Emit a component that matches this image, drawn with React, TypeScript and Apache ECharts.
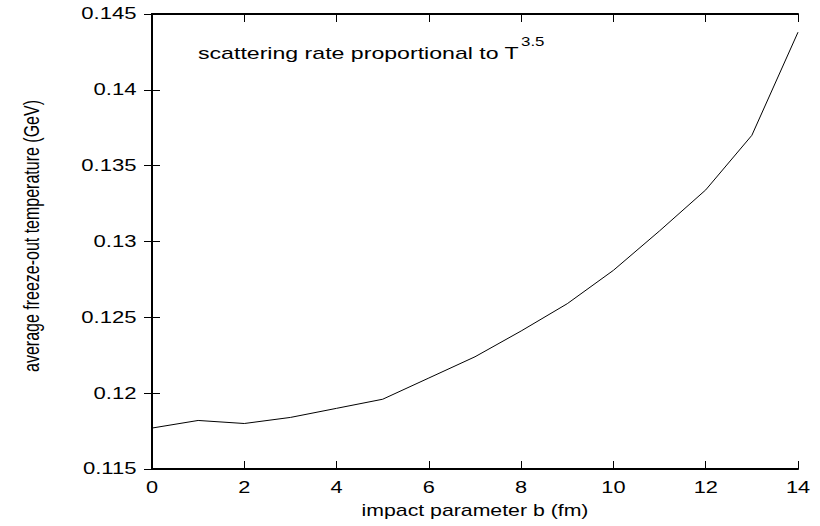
import React, { useEffect, useRef } from "react";
import * as echarts from "echarts";

const impactParameter = [0, 1, 2, 3, 4, 5, 6, 7, 8, 9, 10, 11, 12, 13, 14];
const freezeOutTemp = [0.1177, 0.1182, 0.1180, 0.1184, 0.1190, 0.1196, 0.1210, 0.1224, 0.1241, 0.1259, 0.1281, 0.1307, 0.1334, 0.1370, 0.1438];
const xTicks = [0, 2, 4, 6, 8, 10, 12, 14];
const yTicks = [0.115, 0.12, 0.125, 0.13, 0.135, 0.14, 0.145];
const xTitle = "impact parameter b (fm)";
const yTitle = "average freeze-out temperature (GeV)";
const noteText = "scattering rate proportional to T";
const noteSup = "3.5";

const FONT = "'Liberation Sans', Arial, Helvetica, sans-serif";

export default function App() {
  const ref = useRef<HTMLDivElement>(null);
  useEffect(() => {
    if (!ref.current) return;
    const chart = echarts.init(ref.current, undefined, { renderer: "svg" });
    const tickStyle = { inside: true, length: 8, lineStyle: { color: "#000", width: 1 } };
    const axisLine = { lineStyle: { color: "#000", width: 2 } };
    chart.setOption({
      animation: false,
      backgroundColor: "#fff",
      grid: { left: 152, right: 22, top: 14, bottom: 57, containLabel: false },
      xAxis: [
        { type: "value", min: 0, max: 14, interval: 2, position: "bottom", axisLine, axisTick: tickStyle, axisLabel: { show: false }, splitLine: { show: false } },
        { type: "value", min: 0, max: 14, interval: 2, position: "top", axisLine, axisTick: tickStyle, axisLabel: { show: false }, splitLine: { show: false } },
      ],
      yAxis: [
        { type: "value", min: 0.115, max: 0.145, interval: 0.005, position: "left", axisLine, axisTick: tickStyle, axisLabel: { show: false }, splitLine: { show: false } },
        { type: "value", min: 0.115, max: 0.145, interval: 0.005, position: "right", axisLine, axisTick: tickStyle, axisLabel: { show: false }, splitLine: { show: false } },
      ],
      series: [
        {
          type: "line",
          data: impactParameter.map((x, i) => [x, freezeOutTemp[i]]),
          showSymbol: false,
          symbol: "none",
          lineStyle: { color: "#000", width: 1 },
          silent: true,
        },
      ],
    });

    const elements: any[] = [];
    xTicks.forEach((v, i) => {
      const px = chart.convertToPixel({ xAxisIndex: 0 }, v) as number;
      elements.push({
        type: "text", id: "xl" + i, x: px, y: 488, scaleX: 1.36,
        style: { text: String(v), fontFamily: FONT, fontSize: 16, fill: "#000", align: "center", verticalAlign: "middle" },
      });
    });
    yTicks.forEach((v, i) => {
      const py = chart.convertToPixel({ yAxisIndex: 0 }, v) as number;
      elements.push({
        type: "text", id: "yl" + i, x: 136.5, y: py, scaleX: 1.38,
        style: { text: String(v), fontFamily: FONT, fontSize: 16, fill: "#000", align: "right", verticalAlign: "middle" },
      });
    });
    elements.push({
      type: "text", id: "xt", x: 475, y: 510, scaleX: 1.33,
      style: { text: xTitle, fontFamily: FONT, fontSize: 16, fill: "#000", align: "center", verticalAlign: "middle" },
    });
    elements.push({
      type: "text", id: "yt", x: 32, y: 236, rotation: Math.PI / 2, scaleY: 1.33,
      style: { text: yTitle, fontFamily: FONT, fontSize: 16, fill: "#000", align: "center", verticalAlign: "middle" },
    });
    elements.push({
      type: "text", id: "note", x: 198, y: 53, scaleX: 1.36,
      style: { text: noteText, fontFamily: FONT, fontSize: 17, fill: "#000", align: "left", verticalAlign: "middle" },
    });
    elements.push({
      type: "text", id: "sup", x: 521, y: 41, scaleX: 1.25,
      style: { text: noteSup, fontFamily: FONT, fontSize: 13.5, fill: "#000", align: "left", verticalAlign: "middle" },
    });
    chart.setOption({ graphic: elements });
    return () => chart.dispose();
  }, []);
  return <div ref={ref} style={{ width: 820, height: 526, position: "absolute", left: 0, top: 0 }} />;
}
